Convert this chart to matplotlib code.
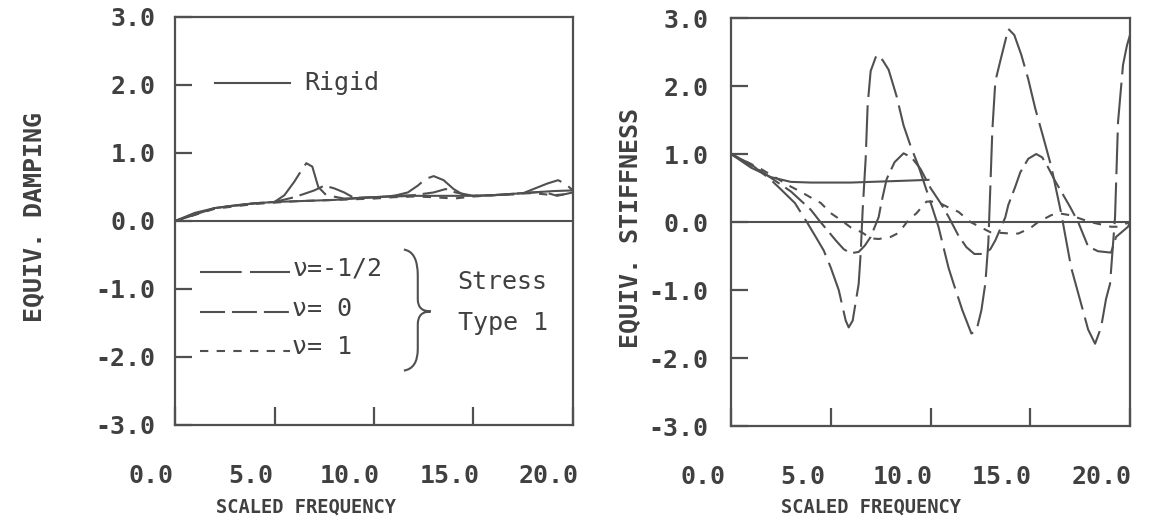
import matplotlib
matplotlib.use('Agg')
import matplotlib.pyplot as plt
from matplotlib.path import Path
from matplotlib.patches import PathPatch
from matplotlib.transforms import ScaledTranslation

plt.rcParams['lines.scale_dashes'] = False

# ---------------- data ----------------
freq_ticks = [0, 5, 10, 15, 20]
freq_labels = ['0.0', '5.0', '10.0', '15.0', '20.0']
val_ticks = [-3, -2, -1, 0, 1, 2, 3]
val_labels = ['-3.0', '-2.0', '-1.0', '0.0', '1.0', '2.0', '3.0']

# Equivalent damping (left panel)
damp_rigid_x = [0, 1, 2, 3, 4, 5, 6, 7, 8, 9, 10, 11, 12, 13, 14, 15, 16, 17, 18, 19, 20]
damp_rigid_y = [0.0, 0.12, 0.19, 0.23, 0.26, 0.28, 0.29, 0.30, 0.31, 0.33, 0.35, 0.36,
                0.37, 0.37, 0.37, 0.37, 0.38, 0.40, 0.42, 0.44, 0.45]
damp_nu_m05_x = [0, 2, 4, 5, 5.5, 6, 6.3, 6.6, 6.9, 7.2, 7.6, 8.5, 10, 11, 11.7, 12.2,
                 12.6, 13.0, 13.5, 14.0, 14.4, 15, 16, 17, 17.5, 18.1, 18.7, 19.25, 19.6, 20]
damp_nu_m05_y = [0, 0.19, 0.26, 0.28, 0.38, 0.58, 0.72, 0.85, 0.80, 0.50, 0.38, 0.33, 0.35,
                 0.37, 0.42, 0.52, 0.62, 0.66, 0.60, 0.47, 0.40, 0.37, 0.38, 0.39, 0.41,
                 0.48, 0.55, 0.60, 0.55, 0.45]
damp_nu_0_x = [0, 2, 4, 5, 6, 6.5, 7.0, 7.5, 8.0, 8.5, 9, 10, 11, 12, 12.5, 13, 13.6,
               14.1, 15, 16, 17, 18, 18.5, 19.2, 20]
damp_nu_0_y = [0, 0.19, 0.26, 0.28, 0.35, 0.40, 0.45, 0.52, 0.48, 0.42, 0.34, 0.35, 0.37,
               0.38, 0.40, 0.42, 0.47, 0.42, 0.37, 0.38, 0.40, 0.42, 0.43, 0.37, 0.42]
damp_nu_1_x = [0, 2, 4, 6, 8, 10, 11, 12, 13, 14, 15, 16, 17, 18, 19, 20]
damp_nu_1_y = [0, 0.18, 0.25, 0.29, 0.31, 0.33, 0.35, 0.36, 0.35, 0.33, 0.36, 0.38, 0.40,
               0.41, 0.38, 0.40]

# Equivalent stiffness (right panel)
stif_rigid_x = [0, 1, 2, 3, 4, 5, 6, 7, 8, 9, 9.9]
stif_rigid_y = [1.0, 0.80, 0.66, 0.59, 0.58, 0.58, 0.58, 0.59, 0.60, 0.61, 0.62]
stif_nu_m05_x = [0, 1, 2, 2.5, 3.2, 3.8, 4.25, 4.65, 5.0, 5.4, 5.75, 5.9, 6.1, 6.4, 6.5,
                 6.6, 6.75, 6.85, 7.0, 7.3, 7.6, 7.9, 8.3, 8.65, 9.0, 9.4, 9.9, 10.4, 10.9,
                 11.15, 11.6, 12.05, 12.3, 12.55, 12.75, 12.9, 13.0, 13.1, 13.25, 13.5,
                 13.9, 14.2, 14.55, 14.9, 15.25, 15.65, 16.05, 16.55, 17.05, 17.5, 17.9,
                 18.25, 18.55, 18.8, 19.0, 19.25, 19.4, 19.65, 19.85, 20]
stif_nu_m05_y = [1.0, 0.85, 0.62, 0.48, 0.28, 0.0, -0.22, -0.42, -0.67, -1.0, -1.45, -1.55,
                 -1.45, -0.91, -0.46, 0.18, 0.93, 1.72, 2.22, 2.46, 2.38, 2.24, 1.85, 1.42,
                 1.12, 0.82, 0.38, -0.07, -0.67, -0.90, -1.30, -1.64, -1.60, -1.30, -0.90,
                 -0.30, 0.52, 1.35, 2.07, 2.37, 2.84, 2.75, 2.46, 2.10, 1.67, 1.25, 0.82,
                 0.13, -0.67, -1.15, -1.58, -1.79, -1.55, -1.13, -0.91, 0.07, 1.47, 2.31,
                 2.60, 2.75]
stif_nu_0_x = [0, 1.5, 3.0, 4.0, 4.4, 5.25, 5.65, 6.0, 6.4, 6.7, 7.0, 7.4, 7.55, 7.8, 8.2,
               8.65, 9.05, 9.5, 10.0, 10.5, 10.9, 11.4, 11.8, 12.2, 12.65, 13.0, 13.25,
               13.75, 13.9, 14.25, 14.5, 14.9, 15.3, 15.6, 15.9, 16.25, 16.55, 17.0, 17.4,
               17.9, 18.4, 19.05, 19.3, 19.9, 20]
stif_nu_0_y = [1.0, 0.75, 0.45, 0.18, 0.03, -0.27, -0.40, -0.46, -0.44, -0.35, -0.22, 0.07,
               0.30, 0.63, 0.88, 1.01, 0.95, 0.78, 0.50, 0.28, 0.08, -0.20, -0.37, -0.47,
               -0.47, -0.40, -0.27, 0.07, 0.25, 0.52, 0.73, 0.93, 1.00, 0.95, 0.80, 0.60,
               0.45, 0.22, 0.0, -0.36, -0.43, -0.45, -0.22, -0.07, 0.0]
stif_nu_1_x = [0, 1.5, 3.0, 3.4, 4.0, 4.5, 5.0, 5.5, 6.05, 6.55, 7.0, 7.4, 8.0, 8.4, 8.9,
               9.3, 9.8, 10.3, 11.0, 11.4, 12.0, 13.0, 14.05, 14.4, 15.0, 15.4, 16.05,
               16.4, 17.0, 18.0, 19.05, 19.4, 20]
stif_nu_1_y = [1.0, 0.78, 0.52, 0.46, 0.36, 0.28, 0.13, 0.03, -0.09, -0.15, -0.24, -0.25,
               -0.22, -0.16, 0.03, 0.13, 0.30, 0.30, 0.20, 0.15, 0.0, -0.15, -0.17, -0.17,
               -0.09, 0.0, 0.10, 0.13, 0.10, 0.0, -0.07, -0.07, 0.0]

# ---------------- style ----------------
INK = '#505050'
TXT = '#404040'
LW = 1.5
DASH_LONG = (0, (30, 6))
DASH_MED = (0, (18, 5))
DASH_SHORT = (0, (6, 6))
MONO = 'DejaVu Sans Mono'

fig = plt.figure(figsize=(11.68, 5.27), dpi=100)
W, H = 1168.0, 527.0


def make_axes(x0, x1, y0, y1):
    return fig.add_axes([x0 / W, 1 - y1 / H, (x1 - x0) / W, (y1 - y0) / H])


def style_axes(ax, label_dx_px, ypad):
    ax.set_xlim(0, 20)
    ax.set_ylim(-3, 3)
    for s in ax.spines.values():
        s.set_color(INK)
        s.set_linewidth(1.6)
    ax.axhline(0, color=INK, lw=1.5, zorder=1)
    ax.set_xticks(freq_ticks)
    ax.set_xticklabels(freq_labels)
    ax.set_yticks(val_ticks)
    ax.set_yticklabels(val_labels)
    ax.tick_params(axis='both', direction='in', color=INK, width=1.6,
                   labelcolor=TXT, labelsize=18)
    ax.tick_params(axis='x', length=13, pad=28)
    ax.tick_params(axis='y', length=12, pad=ypad)
    for lab in ax.get_xticklabels() + ax.get_yticklabels():
        lab.set_fontfamily(MONO)
        lab.set_fontweight('bold')
    off = ScaledTranslation(label_dx_px / 100.0, 0, fig.dpi_scale_trans)
    for lab in ax.get_xticklabels():
        lab.set_transform(lab.get_transform() + off)


# ---------------- left panel: damping ----------------
ax1 = make_axes(175, 573, 17, 425)
style_axes(ax1, -24, 14)
ax1.plot(damp_rigid_x, damp_rigid_y, color=INK, lw=LW, ls='-')
ax1.plot(damp_nu_m05_x, damp_nu_m05_y, color=INK, lw=LW, ls=DASH_LONG)
ax1.plot(damp_nu_0_x, damp_nu_0_y, color=INK, lw=LW, ls=DASH_MED)
ax1.plot(damp_nu_1_x, damp_nu_1_y, color=INK, lw=LW, ls=DASH_SHORT)

# legend (drawn as in the original, inside the left panel)
ax1.plot([2.0, 5.8], [2.03, 2.03], color=INK, lw=LW, ls='-')
ax1.text(6.5, 2.03, 'Rigid', fontsize=18, family=MONO, color=TXT, va='center')
leg_rows = [(-0.75, DASH_LONG, 'ν=-1/2'), (-1.34, DASH_MED, 'ν= 0'), (-1.91, DASH_SHORT, 'ν= 1')]
for yy, ls, txt in leg_rows:
    ax1.plot([1.25, 5.8], [yy, yy], color=INK, lw=LW, ls=ls)
    ax1.text(5.9, yy + 0.05, txt, fontsize=18, family=MONO, color=TXT, va='center')

# curly brace
brace = Path([(11.5, -0.42), (12.2, -0.45), (12.2, -0.8),
              (12.2, -1.15),
              (12.2, -1.33), (12.85, -1.33),
              (12.2, -1.33), (12.2, -1.52),
              (12.2, -1.88),
              (12.2, -2.17), (11.5, -2.2)],
             [Path.MOVETO, Path.CURVE3, Path.CURVE3,
              Path.LINETO,
              Path.CURVE3, Path.CURVE3,
              Path.CURVE3, Path.CURVE3,
              Path.LINETO,
              Path.CURVE3, Path.CURVE3])
ax1.add_patch(PathPatch(brace, fill=False, edgecolor=INK, lw=LW))
ax1.text(14.2, -0.9, 'Stress', fontsize=18, family=MONO, color=TXT, va='center')
ax1.text(14.2, -1.5, 'Type 1', fontsize=18, family=MONO, color=TXT, va='center')

# ---------------- right panel: stiffness ----------------
ax2 = make_axes(731, 1130, 18, 426)
style_axes(ax2, -28, 16)
ax2.plot(stif_rigid_x, stif_rigid_y, color=INK, lw=LW, ls='-')
ax2.plot(stif_nu_m05_x, stif_nu_m05_y, color=INK, lw=LW, ls=DASH_LONG)
ax2.plot(stif_nu_0_x, stif_nu_0_y, color=INK, lw=LW, ls=DASH_MED)
ax2.plot(stif_nu_1_x, stif_nu_1_y, color=INK, lw=LW, ls=DASH_SHORT)

# axis titles
fig.text(35 / W, 1 - 217 / H, 'EQUIV. DAMPING', rotation=90, ha='center', va='center',
         fontsize=18, family=MONO, fontweight='bold', color=TXT)
fig.text(631 / W, 1 - 228 / H, 'EQUIV. STIFFNESS', rotation=90, ha='center', va='center',
         fontsize=18, family=MONO, fontweight='bold', color=TXT)
fig.text(306 / W, 1 - 507 / H, 'SCALED FREQUENCY', ha='center', va='center',
         fontsize=13.5, family=MONO, fontweight='bold', color=TXT)
fig.text(871 / W, 1 - 507 / H, 'SCALED FREQUENCY', ha='center', va='center',
         fontsize=13.5, family=MONO, fontweight='bold', color=TXT)

fig.savefig('out.png', dpi=100)
